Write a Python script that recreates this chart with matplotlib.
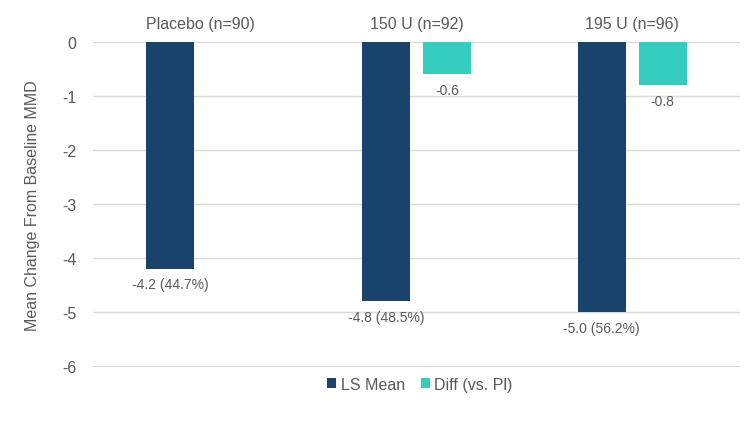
import numpy as np
import matplotlib
matplotlib.use("Agg")
import matplotlib.pyplot as plt

plt.rcParams["font.family"] = ["Liberation Sans", "DejaVu Sans"]
plt.rcParams["axes.unicode_minus"] = False

# data
groups = ["Placebo (n=90)", "150 U (n=92)", "195 U (n=96)"]
ls_mean = [-4.2, -4.8, -5.0]
ls_pct = [44.7, 48.5, 56.2]
diff_pl = [np.nan, -0.6, -0.8]
series_names = ["LS Mean", "Diff (vs. Pl)"]

DARK = "#1a436b"
TEAL = "#35cdc0"
GREY = "#595959"

fig = plt.figure(figsize=(7.5, 4.39), dpi=100)
ax = fig.add_axes([0.124, 0.162, 0.8627, 0.740])

x = np.arange(len(groups))
w = 0.222
off = 0.141

b1 = ax.bar(x - off, ls_mean, w, color=DARK, label=series_names[0], zorder=3)
b2 = ax.bar(x + off, diff_pl, w, color=TEAL, label=series_names[1], zorder=3)

for rect, v, p in zip(b1, ls_mean, ls_pct):
    ax.annotate(f"{v:.1f} ({p:.1f}%)", (rect.get_x() + rect.get_width() / 2, v),
                xytext=(0, -6), textcoords="offset points",
                ha="center", va="top", fontsize=10, color=GREY)
for rect, v in zip(b2, diff_pl):
    if np.isnan(v):
        continue
    ax.annotate(f"{v:.1f}", (rect.get_x() + rect.get_width() / 2, v),
                xytext=(0, -6), textcoords="offset points",
                ha="center", va="top", fontsize=10, color=GREY)

ax.set_xlim(-0.5, 2.5)
ax.set_ylim(-6.01, 0)
ax.set_yticks(range(-6, 1))
ax.set_xticks(x)
ax.set_xticklabels(groups)
ax.xaxis.tick_top()
ax.tick_params(axis="x", length=0, pad=8, labelsize=11.5, labelcolor=GREY)
ax.tick_params(axis="y", length=0, pad=12, labelsize=11.5, labelcolor=GREY)
ax.grid(axis="y", color="#d9d9d9", linewidth=1, zorder=0)
for s in ax.spines.values():
    s.set_visible(False)

ax.set_ylabel("Mean Change From Baseline MMD", fontsize=11.5, color=GREY, labelpad=16)

fig.legend(loc="center", bbox_to_anchor=(0.56, 0.123), ncol=2, frameon=False,
           fontsize=11.5, labelcolor=GREY, handlelength=0.55, handleheight=0.55,
           handletextpad=0.3, columnspacing=1.0)

fig.savefig("out.png", dpi=100)
